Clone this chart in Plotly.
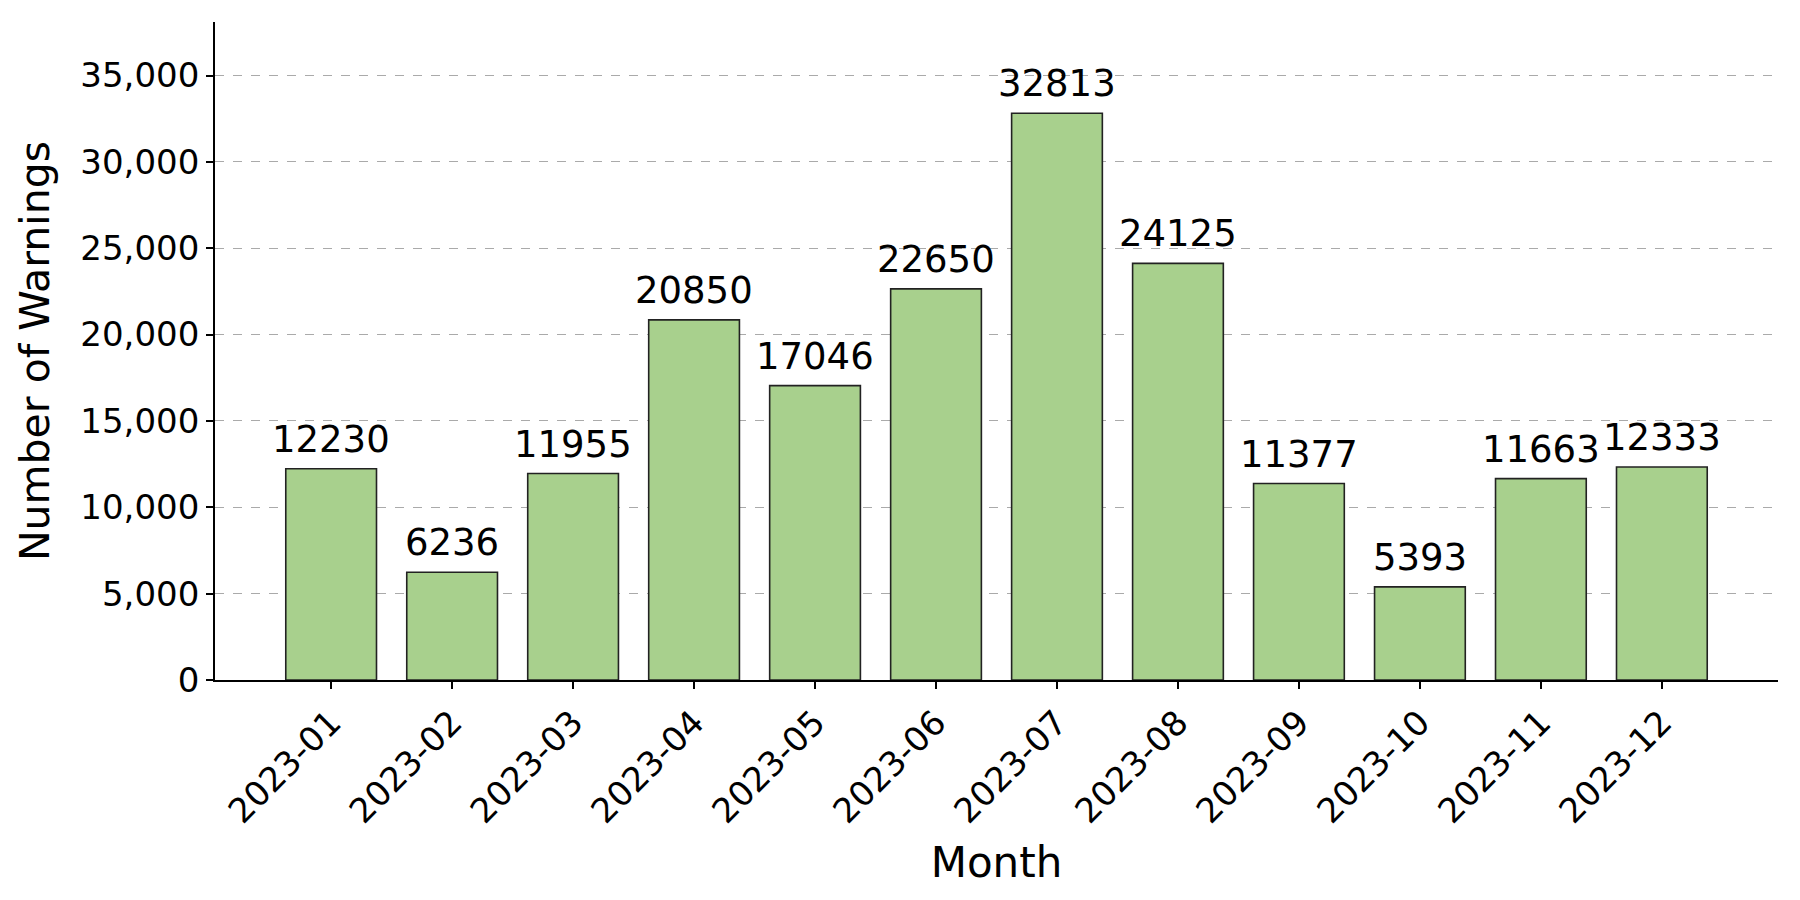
import plotly.graph_objects as go

months = ["2023-01", "2023-02", "2023-03", "2023-04", "2023-05", "2023-06",
          "2023-07", "2023-08", "2023-09", "2023-10", "2023-11", "2023-12"]
warnings = [12230, 6236, 11955, 20850, 17046, 22650, 32813, 24125, 11377, 5393, 11663, 12333]
y_ticks = [0, 5000, 10000, 15000, 20000, 25000, 30000, 35000]

font = "DejaVu Sans"

fig = go.Figure()
fig.add_trace(go.Bar(
    x=months, y=warnings, width=0.75,
    marker=dict(color="#a8d08d", line=dict(color="#222222", width=1.6)),
))

# value labels above each bar
for m, v in zip(months, warnings):
    fig.add_annotation(x=m, y=v, text=str(v), showarrow=False, yanchor="bottom",
                       yshift=6, font=dict(family=font, size=37, color="black"))

fig.update_layout(
    width=1800, height=900,
    margin=dict(l=207, r=30, t=14, b=228),
    plot_bgcolor="white", paper_bgcolor="white",
    showlegend=False,
    font=dict(family=font, color="black"),
    xaxis=dict(
        type="category",
        range=[-0.96, 11.96], tickangle=-45, tickfont=dict(size=34),
        showline=True, linecolor="black", linewidth=1.8,
        ticks="outside", ticklen=7, tickwidth=1.5, tickcolor="black",
        showgrid=False,
        title=dict(text="Month", font=dict(size=42), standoff=18),
    ),
    yaxis=dict(
        range=[0, 38100], tickvals=y_ticks, tickformat=",", tickfont=dict(size=34),
        showline=True, linecolor="black", linewidth=1.8,
        ticks="outside", ticklen=7, tickwidth=1.5, tickcolor="black",
        showgrid=True, gridcolor="#aaaaaa", griddash="dash", gridwidth=1.2,
        zeroline=False,
        title=dict(text="Number of Warnings", font=dict(size=41), standoff=18),
    ),
)

fig.write_html("out.html")
